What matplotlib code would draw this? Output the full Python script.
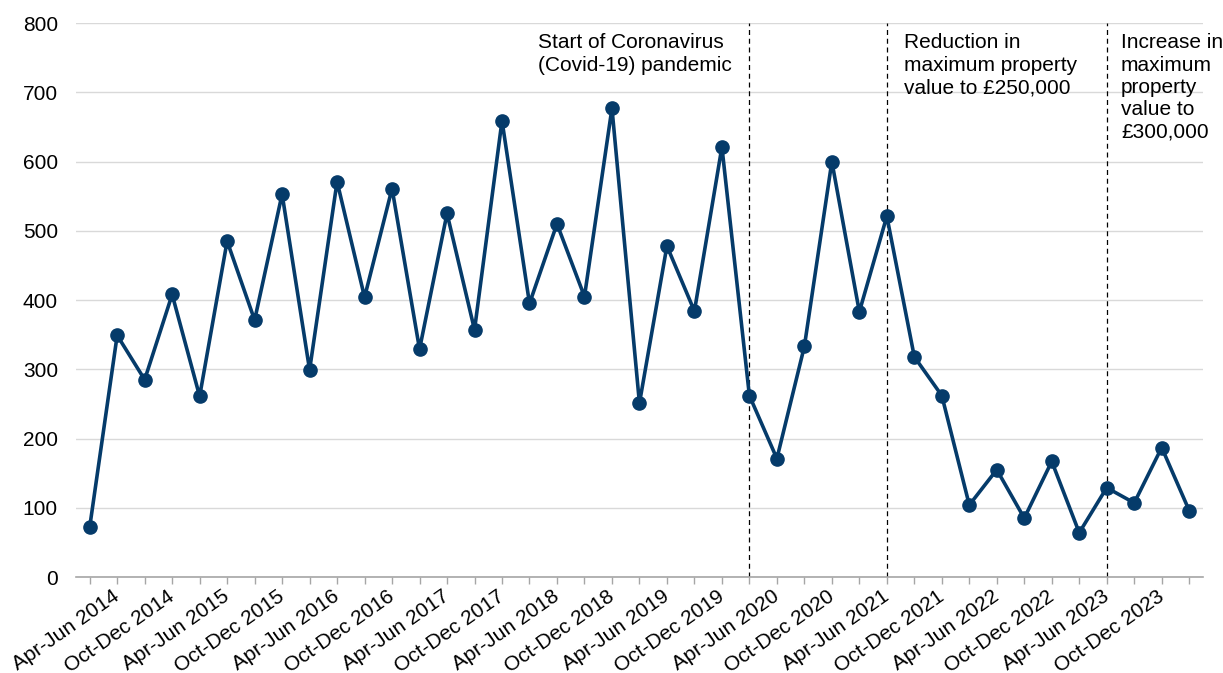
import matplotlib.pyplot as plt

plt.rcParams['font.family'] = ['Liberation Sans', 'DejaVu Sans']

quarters = []
for yr in range(2014, 2025):
    for q in ['Jan-Mar', 'Apr-Jun', 'Jul-Sep', 'Oct-Dec']:
        quarters.append(q + ' ' + str(yr))
quarters = quarters[:41]  # Jan-Mar 2014 .. Jan-Mar 2024

values = [72, 349, 285, 408, 261, 485, 371, 553, 299, 571,
          404, 561, 329, 525, 357, 659, 395, 510, 405, 677,
          251, 478, 384, 621, 262, 171, 333, 600, 383, 521,
          318, 262, 104, 155, 85, 167, 64, 129, 107, 187, 96]

event_quarters = ['Jan-Mar 2020', 'Apr-Jun 2021', 'Apr-Jun 2023']
event_texts = ['Start of Coronavirus\n(Covid-19) pandemic',
               'Reduction in\nmaximum property\nvalue to £250,000',
               'Increase in\nmaximum\nproperty\nvalue to\n£300,000']
event_text_x = [16.3, 29.63, 37.52]

navy = '#053B6A'
fs = 15

fig = plt.figure(figsize=(12.23, 6.73), dpi=100)
ax = fig.add_axes([0.0621, 0.1426, 0.9215, 0.8232])

x = list(range(len(values)))
ax.plot(x, values, color=navy, lw=2.6, marker='o', markersize=9.5, zorder=3)

# dashed event markers
for q in event_quarters:
    ax.axvline(quarters.index(q), ymin=0, ymax=1, color='black',
               lw=0.9, ls=(0, (4, 3)), zorder=2)

for tx, t in zip(event_text_x, event_texts):
    ax.text(tx, 785, t, ha='left', va='top', fontsize=fs,
            linespacing=1.22, clip_on=False)

ax.set_xlim(-0.5, len(values) - 0.5)
ax.set_ylim(0, 800)
ax.set_yticks(range(0, 801, 100))
ax.grid(axis='y', color='#D9D9D9', lw=1)
ax.set_axisbelow(True)

# tick at every quarter, label every second one
ax.set_xticks(x)
labels = [q if i % 2 == 1 else '' for i, q in enumerate(quarters)]
ax.set_xticklabels(labels, rotation=35, ha='right', va='center',
                   rotation_mode='anchor', fontsize=fs)

ax.tick_params(axis='y', length=0, pad=13, labelsize=fs)
ax.tick_params(axis='x', length=5, color='#A6A6A6', width=1, pad=7.5)
for s in ['top', 'right', 'left']:
    ax.spines[s].set_visible(False)
ax.spines['bottom'].set_color('#A6A6A6')
ax.spines['bottom'].set_linewidth(1.2)

fig.savefig('out.png', dpi=100)
